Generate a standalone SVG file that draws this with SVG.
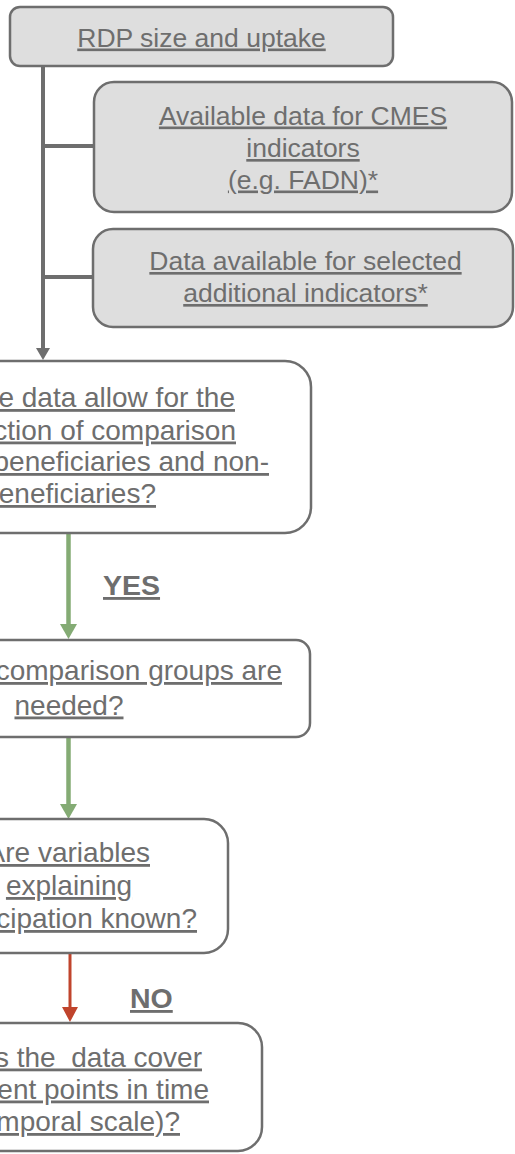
<svg xmlns="http://www.w3.org/2000/svg" width="515" height="1154" viewBox="0 0 515 1154">
<style>
.box{stroke:#6e6e6e;stroke-width:2.5}
.g{fill:#dedede}
.w{fill:#ffffff}
text{font-family:"Liberation Sans",Arial,sans-serif;fill:#6e6e6e;text-decoration:underline;white-space:pre}
.s{font-size:26.5px;text-anchor:middle}
.l{font-size:28px}
.lab{font-size:28.5px;font-weight:bold}
.conn{stroke:#6e6e6e;stroke-width:4;fill:none}
.green{stroke:#84ab74;stroke-width:4.5;fill:none}
.red{stroke:#c0442c;stroke-width:3;fill:none}
</style>
<rect width="515" height="1154" fill="#ffffff"/>
<g id="connectors">
  <line class="conn" x1="43" y1="66" x2="43" y2="349"/>
  <polygon points="36,348 50,348 43,360" fill="#6e6e6e"/>
  <line class="conn" x1="43" y1="146" x2="95" y2="146"/>
  <line class="conn" x1="43" y1="277" x2="94" y2="277"/>
  <line class="green" x1="68.5" y1="533" x2="68.5" y2="626"/>
  <polygon points="60,624 77,624 68.5,639" fill="#84ab74"/>
  <line class="green" x1="68.5" y1="737" x2="68.5" y2="806"/>
  <polygon points="60,804 77,804 68.5,819" fill="#84ab74"/>
  <line class="red" x1="70" y1="953" x2="70" y2="1009"/>
  <polygon points="62,1007 78,1007 70,1022" fill="#c0442c"/>
  <text class="lab" x="103" y="595">YES</text>
  <text class="lab" x="130" y="1008">NO</text>
</g>
<g id="n1">
  <rect class="box g" x="10" y="7" width="383" height="59" rx="10"/>
  <text class="s" x="201.5" y="46.5">RDP size and uptake</text>
</g>
<g id="n2">
  <rect class="box g" x="94" y="82" width="418" height="130" rx="20"/>
  <text class="s" x="303" y="124.5">Available data for CMES</text>
  <text class="s" x="303" y="157">indicators</text>
  <text class="s" x="303" y="188.5">(e.g. FADN)*</text>
</g>
<g id="n3">
  <rect class="box g" x="93" y="229" width="420" height="98" rx="20"/>
  <text class="s" x="305.5" y="270">Data available for selected</text>
  <text class="s" x="305.5" y="302">additional indicators*</text>
</g>
<g id="n4">
  <rect class="box w" x="-200" y="361" width="511" height="172" rx="26"/>
  <text class="l" x="235" y="407" text-anchor="end">e data allow for the</text>
  <text class="l" x="236" y="439.5" text-anchor="end">ction of comparison</text>
  <text class="l" x="269" y="471" text-anchor="end">beneficiaries and non-</text>
  <text class="l" x="156" y="503" text-anchor="end">eneficiaries?</text>
</g>
<g id="n5">
  <rect class="box w" x="-180" y="640" width="490" height="97" rx="14"/>
  <text class="l" x="282" y="680" text-anchor="end">comparison groups are</text>
  <text class="l" x="69" y="714.5" text-anchor="middle">needed?</text>
</g>
<g id="n6">
  <rect class="box w" x="-90" y="819" width="318" height="134" rx="24"/>
  <text class="l" x="150" y="862" text-anchor="end">Are variables</text>
  <text class="l" x="69" y="895" text-anchor="middle">explaining</text>
  <text class="l" x="197" y="928" text-anchor="end">cipation known?</text>
</g>
<g id="n7">
  <rect class="box w" x="-120" y="1023" width="382" height="128" rx="24"/>
  <text class="l" x="202" y="1066.5" text-anchor="end">s the  data cover</text>
  <text class="l" x="209" y="1098.5" text-anchor="end">ent points in time</text>
  <text class="l" x="180" y="1131" text-anchor="end">mporal scale)?</text>
</g>
</svg>
